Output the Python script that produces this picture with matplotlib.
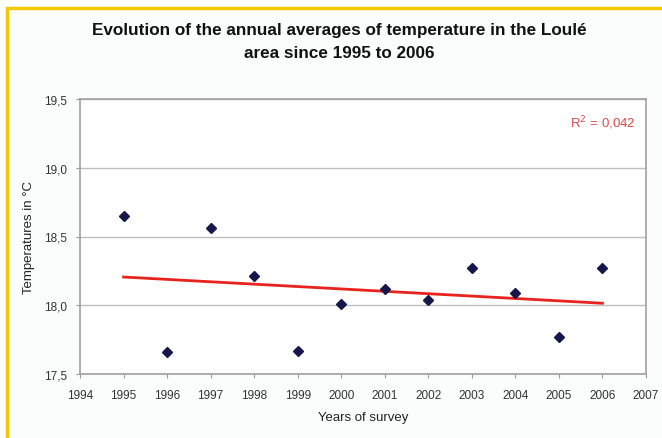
import numpy as np
import matplotlib
matplotlib.use("Agg")
import matplotlib.pyplot as plt
import matplotlib.patches as mpatches

plt.rcParams['font.family'] = ['Liberation Sans', 'DejaVu Sans']

# annual mean temperature, Loulé
years = [1995, 1996, 1997, 1998, 1999, 2000, 2001, 2002, 2003, 2004, 2005, 2006]
temps = [18.65, 17.66, 18.56, 18.21, 17.67, 18.01, 18.12, 18.04, 18.27, 18.09, 17.77, 18.27]
r2_label = "R$^2$ = 0,042"

xticks = list(range(1994, 2008))
yticks = [17.5, 18.0, 18.5, 19.0, 19.5]
ytick_labels = ["17,5", "18,0", "18,5", "19,0", "19,5"]

fig = plt.figure(figsize=(6.62, 4.39), dpi=100)
fig.patch.set_facecolor('white')

# yellow frame round the chart area
frame = mpatches.Rectangle((7/662, -0.1), 2, 1 - 9/439 + 0.1, transform=fig.transFigure,
                           facecolor='#fbfcfc', edgecolor='#f7c800', lw=2.5, zorder=-5)
fig.patches.append(frame)

ax = fig.add_axes([80/662, 1 - 375/439, 566/662, 275/439])
ax.set_facecolor('white')

ax.plot(years, temps, linestyle='none', marker='D', markersize=5.5,
        color='#16164a', zorder=3)

# linear trend
k, b = np.polyfit(years, temps, 1)
xs = np.array([years[0], years[-1]])
ax.plot(xs, k * xs + b, color='#e8221c', lw=2, zorder=2)

ax.text(0.982, 0.915, r2_label, transform=ax.transAxes, ha='right', va='center',
        color='#e04848', fontsize=9.5)

ax.set_xlim(1994, 2007)
ax.set_ylim(17.5, 19.5)
ax.set_xticks(xticks)
ax.set_xticklabels([str(x) for x in xticks], fontsize=8.5, color='#333333')
ax.set_yticks(yticks)
ax.set_yticklabels(ytick_labels, fontsize=8.5, color='#333333')
ax.tick_params(axis='both', length=3, color='#999999')
ax.tick_params(axis='x', pad=8)
ax.tick_params(axis='y', pad=6)
ax.yaxis.grid(True, color='#bdbdbd', lw=1)
ax.set_axisbelow(True)
for s in ax.spines.values():
    s.set_color('#a0a0a0')
    s.set_linewidth(1.2)

ax.set_xlabel("Years of survey", fontsize=9.5, color='#222222', labelpad=7)
ax.set_ylabel("Temperatures in °C", fontsize=9.5, color='#222222', labelpad=7)

fig.text(339/662, 1 - 42/439, "Evolution of the annual averages of temperature in the Loulé\narea since 1995 to 2006",
         ha='center', va='center', fontsize=12.3, fontweight='bold', color='#111111',
         linespacing=1.65)

fig.savefig("out.png", dpi=100, facecolor=fig.get_facecolor())
